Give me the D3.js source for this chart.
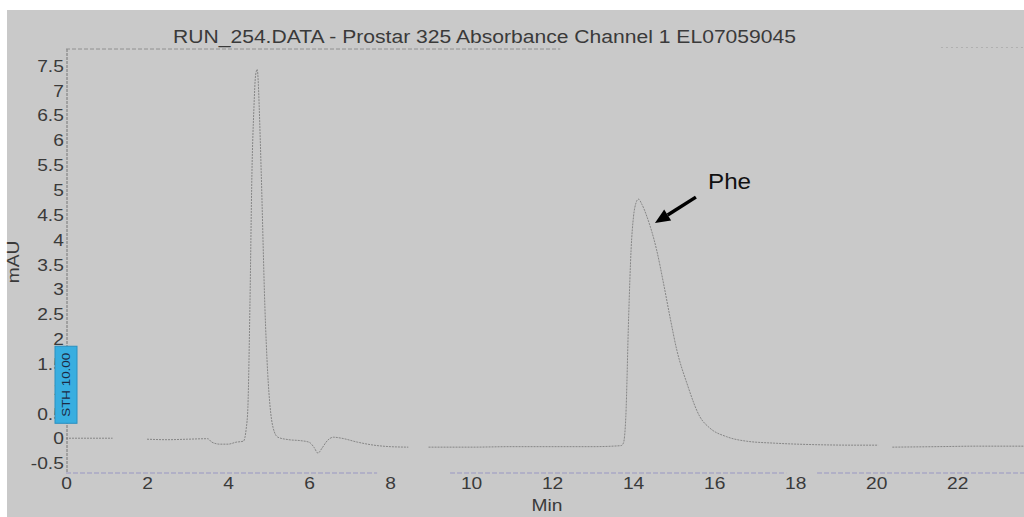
<!DOCTYPE html>
<html><head><meta charset="utf-8">
<script src="https://cdn.jsdelivr.net/npm/d3@7/dist/d3.min.js"></script>
<style>html,body{margin:0;padding:0;background:#fff;overflow:hidden}</style>
</head><body><svg id="c" width="1024" height="517"></svg>
<script>
const titleText = "RUN_254.DATA - Prostar 325 Absorbance Channel 1 EL07059045";
const xLabel = "Min";
const yLabel = "mAU";
const xTicks = [0, 2, 4, 6, 8, 10, 12, 14, 16, 18, 20, 22];
const yTicks = [-0.5, 0, 0.5, 1, 1.5, 2, 2.5, 3, 3.5, 4, 4.5, 5, 5.5, 6, 6.5, 7, 7.5];
// chromatogram trace (null = gap in recorded trace)
const timeMin = [0, 0.5, 1.15, null,
  2.0, 2.5, 3.0, 3.5, 3.6, 3.8, 4.0, 4.2, 4.38, 4.45, 4.49, 4.54, 4.59, 4.64, 4.68, 4.72, 4.75, 4.77, 4.82, 4.91, 4.98, 5.04, 5.11, 5.23, 5.5, 5.8, 6.0, 6.12, 6.22, 6.32, 6.45, 6.6, 6.8, 7.2, 7.6, 8.0, 8.45, null,
  8.95, 10, 11, 12, 13, 13.7, 13.76, 13.82, 13.89, 13.95, 14.01, 14.07, 14.13, 14.22, 14.34, 14.58, 14.75, 14.91, 15.08, 15.33, 15.65, 15.9, 16.31, 16.8, 17.5, 18.5, 19.5, 20.05, null,
  20.4, 21.5, 22.5, 23.7];
const absorbance = [0.0, 0.0, 0.0, null,
  -0.02, -0.03, -0.02, -0.01, -0.08, -0.12, -0.12, -0.08, -0.06, 0.2, 0.62, 2.64, 5.33, 6.66, 7.3, 7.42, 7.1, 6.66, 5.33, 2.64, 1.3, 0.62, 0.22, 0.02, -0.03, -0.05, -0.08, -0.18, -0.3, -0.2, -0.05, 0.02, 0.0, -0.08, -0.14, -0.17, -0.18, null,
  -0.18, -0.18, -0.17, -0.17, -0.17, -0.15, -0.1, 0.43, 2.44, 3.79, 4.46, 4.73, 4.81, 4.7, 4.46, 3.79, 3.12, 2.44, 1.77, 1.1, 0.43, 0.2, 0.03, -0.06, -0.1, -0.13, -0.14, -0.14, null,
  -0.18, -0.17, -0.16, -0.16];
const axisSegments = [[0, 7.68], [9.48, 17.78], [18.54, 23.65]];
const peakName = "Phe";
const peakArrowFrom = [15.55, 4.85];
const peakArrowTo = [14.54, 4.33];
const peakLabelAt = [15.85, 5.02];
const badgeText = "STH 10.00";
const badgeRange = [1.85, 0.3];

const svg = d3.select("#c");
const W = 1024, H = 517;
const font = "'Liberation Sans', Arial, sans-serif";
const txt = "#3a3a3a";

svg.append("rect").attr("x", 7).attr("y", 10).attr("width", W - 7).attr("height", H - 10).attr("fill", "#c9c9c9");

const x = d3.scaleLinear().domain([0, 23.65]).range([66, 1024]);
const y = d3.scaleLinear().domain([-0.7, 7.83]).range([473, 49]);

// frame lines
svg.append("line").attr("x1", x(0) + 1).attr("x2", x(0) + 1).attr("y1", y(7.83)).attr("y2", y(-0.7))
  .attr("stroke", "#777").attr("stroke-width", 1).attr("stroke-dasharray", "3,1");
svg.append("line").attr("x1", x(0)).attr("x2", x(12.2)).attr("y1", y(7.83)).attr("y2", y(7.83))
  .attr("stroke", "#909090").attr("stroke-width", 1).attr("stroke-dasharray", "4,2");
svg.append("line").attr("x1", x(21.6)).attr("x2", x(23.65)).attr("y1", y(7.86)).attr("y2", y(7.86))
  .attr("stroke", "#b0b0b0").attr("stroke-width", 1).attr("stroke-dasharray", "2,3");

// bottom axis segments
svg.selectAll("line.xseg").data(axisSegments).enter().append("line").attr("class", "xseg")
  .attr("x1", d => x(d[0])).attr("x2", d => x(d[1]))
  .attr("y1", y(-0.7)).attr("y2", y(-0.7))
  .attr("stroke", "#9a98c4").attr("stroke-width", 1.2).attr("stroke-dasharray", "5,2");

// axes (labels only)
const gx = svg.append("g").attr("transform", `translate(0,${y(-0.7)})`)
  .call(d3.axisBottom(x).tickValues(xTicks).tickSize(0).tickPadding(5).tickFormat(d3.format("d")));
const gy = svg.append("g").attr("transform", `translate(${x(0) - 1},0)`)
  .call(d3.axisLeft(y).tickValues(yTicks).tickSize(0).tickPadding(1).tickFormat(d => String(d)));
[gx, gy].forEach(g => {
  g.select(".domain").remove();
  g.selectAll("text").attr("font-family", font).attr("font-size", 16).attr("fill", txt);
});
gx.selectAll("text").attr("transform", "scale(1.2,1)");
gy.selectAll("text").attr("transform", "scale(1.2,1)").attr("x", -1).attr("dy", "0.36em");

// trace
const pts = timeMin.map((t, i) => [t, absorbance[i]]);
const line = d3.line().defined(d => d[0] !== null && d[1] !== null)
  .x(d => x(d[0])).y(d => y(d[1])).curve(d3.curveMonotoneX);
svg.append("path").datum(pts).attr("d", line).attr("fill", "none")
  .attr("stroke", "#7e7e7e").attr("stroke-width", 0.9).attr("stroke-dasharray", "2,1");

// badge
const by0 = y(badgeRange[0]), by1 = y(badgeRange[1]);
svg.append("rect").attr("x", x(0) - 11).attr("y", by0).attr("width", 22).attr("height", by1 - by0)
  .attr("fill", "#38aee0").attr("stroke", "#2a90c0").attr("stroke-width", 1);
svg.append("text").attr("transform", `translate(${x(0) + 4},${(by0 + by1) / 2}) rotate(-90)`)
  .attr("text-anchor", "middle").attr("font-family", font).attr("font-size", 11.5)
  .attr("fill", "#1c2a44").attr("textLength", 64).attr("lengthAdjust", "spacingAndGlyphs").text(badgeText);

// title
svg.append("text").attr("x", 484.5).attr("y", 43).attr("text-anchor", "middle")
  .attr("font-family", font).attr("font-size", 17.5).attr("fill", txt)
  .attr("textLength", 623).attr("lengthAdjust", "spacingAndGlyphs").text(titleText);

// axis titles
svg.append("text").attr("x", 547).attr("y", 511).attr("text-anchor", "middle")
  .attr("font-family", font).attr("font-size", 16).attr("fill", txt)
  .attr("transform", "translate(547,0) scale(1.2,1) translate(-547,0)").text(xLabel);
svg.append("text").attr("transform", "translate(19,262) rotate(-90) scale(1.2,1)")
  .attr("text-anchor", "middle").attr("font-family", font).attr("font-size", 16).attr("fill", txt).text(yLabel);

// annotation
const ax0 = x(peakArrowFrom[0]), ay0 = y(peakArrowFrom[1]);
const ax1 = x(peakArrowTo[0]), ay1 = y(peakArrowTo[1]);
const ang = Math.atan2(ay1 - ay0, ax1 - ax0);
const hl = 15, hw = 6.5;
const bx = ax1 - hl * Math.cos(ang), byy = ay1 - hl * Math.sin(ang);
svg.append("line").attr("x1", ax0).attr("y1", ay0).attr("x2", bx).attr("y2", byy)
  .attr("stroke", "#000").attr("stroke-width", 3.5);
svg.append("path").attr("d", d3.line()([
  [ax1, ay1],
  [bx + hw * Math.sin(ang), byy - hw * Math.cos(ang)],
  [bx - hw * Math.sin(ang), byy + hw * Math.cos(ang)]
]) + "Z").attr("fill", "#000");
svg.append("text").attr("x", x(peakLabelAt[0])).attr("y", y(peakLabelAt[1]))
  .attr("font-family", font).attr("font-size", 22).attr("fill", "#111")
  .attr("transform", `translate(${x(peakLabelAt[0])},0) scale(1.1,1) translate(${-x(peakLabelAt[0])},0)`).text(peakName);
</script></body></html>
